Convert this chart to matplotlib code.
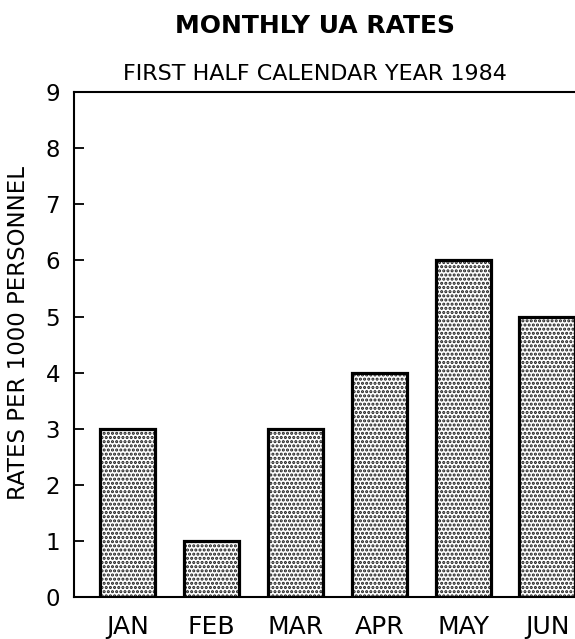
import matplotlib.pyplot as plt
import numpy as np

# Monthly UA rates, first half of 1984
months = ['JAN', 'FEB', 'MAR', 'APR', 'MAY', 'JUN']
rates = [3, 1, 3, 4, 6, 5]
yticks = [0, 1, 2, 3, 4, 5, 6, 7, 8, 9]

plt.rcParams['font.family'] = ['DejaVu Sans']
plt.rcParams['hatch.linewidth'] = 1.5

fig = plt.figure(figsize=(5.75, 6.39), dpi=100)
ax = fig.add_axes([0.1287, 0.0657, 0.925, 0.790])

x = np.arange(len(months))

# stipple fill, then a heavy outline on top
ax.bar(x, rates, width=0.66, color='white', edgecolor='#1a1a1a',
       hatch='....', linewidth=0, zorder=2)
ax.bar(x, rates, width=0.66, fill=False, edgecolor='black',
       linewidth=2.3, zorder=3)

ax.set_xlim(-0.64, 5.7)
ax.set_ylim(0, 9)
ax.set_yticks(yticks)
ax.set_xticks(x)
ax.set_xticklabels(months)

ax.tick_params(axis='y', direction='in', length=7, width=1.3,
               labelsize=16.5, pad=10)
ax.tick_params(axis='x', length=0, labelsize=18, pad=13)

for side in ['left', 'top', 'bottom', 'right']:
    ax.spines[side].set_linewidth(1.5)

ax.set_ylabel('RATES PER 1000 PERSONNEL', fontsize=16.5,
              va='center', ha='center')
ax.yaxis.set_label_coords(19 / 575, 1 - 333 / 639, transform=fig.transFigure)

fig.text(0.548, 0.960, 'MONTHLY UA RATES', ha='center', va='center',
         fontsize=18, fontweight='bold')
fig.text(0.548, 0.884, 'FIRST HALF CALENDAR YEAR 1984', ha='center',
         va='center', fontsize=16)

fig.savefig('out.png', dpi=100)
